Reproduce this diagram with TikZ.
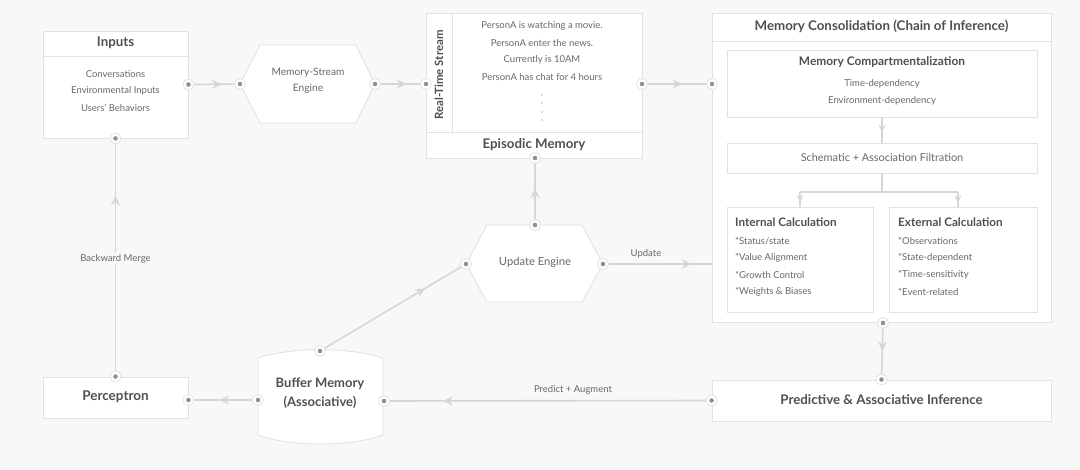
\documentclass[tikz,border=0pt]{standalone}
\usepackage{fontspec}
\setmainfont{Lato}
\usetikzlibrary{arrows.meta,decorations.markings,calc}

\definecolor{bgcol}{HTML}{F8F8F9}
\definecolor{boxline}{HTML}{E1E2E5}
\definecolor{linecol}{HTML}{D4D6DA}
\definecolor{txtcol}{HTML}{68686A}
\definecolor{ttlcol}{HTML}{505052}
\definecolor{dotcol}{HTML}{8C919A}

\tikzset{
  box/.style={draw=boxline, fill=white, line width=0.9pt, inner sep=0pt},
  conn/.style={draw=linecol, line width=1.6pt},
  thinconn/.style={draw=linecol, line width=1.1pt},
  arrowat/.style={postaction={decorate}, decoration={markings,
      mark=at position #1 with {\arrow[linecol]{Stealth[length=10pt,width=9pt,inset=3.5pt]}}}},
  smallarrowat/.style={postaction={decorate}, decoration={markings,
      mark=at position #1 with {\arrow[linecol]{Stealth[length=8pt,width=7pt,inset=3pt]}}}},
  itemtext/.style={text=txtcol, font=\fontsize{9.5}{11}\selectfont, inner sep=0pt},
  titletext/.style={text=ttlcol, font=\bfseries\fontsize{13.3}{15}\selectfont, inner sep=0pt},
  subtitle/.style={text=ttlcol, font=\bfseries\fontsize{11.7}{13}\selectfont, inner sep=0pt},
}
\newcommand{\port}[1]{%
  \fill[white] (#1) circle (5.5pt);
  \draw[boxline, line width=0.8pt] (#1) circle (5.5pt);
  \fill[dotcol] (#1) circle (2.3pt);}

\begin{document}
\begin{tikzpicture}[x=1pt,y=-1pt]
\fill[bgcol] (0,0) rectangle (1080,470);
\useasboundingbox (0,0) rectangle (1080,470);

% inputs
\node[box, minimum width=145pt, minimum height=107pt] (inputs) at (115.5,84.5) {};
\draw[boxline, line width=0.9pt] (43,56) -- (188,56);
\node[titletext] (inputsT) at (115.5,43) {Inputs};
\node[itemtext] (in1) at (115.5,74) {Conversations};
\node[itemtext] (in2) at (115.5,91) {Environmental Inputs};
\node[itemtext] (in3) at (115.5,108) {Users' Behaviors};

% memory-stream engine
\coordinate (mseW) at (240,84);
\coordinate (mseE) at (375,84);
\draw[box] (mseW) -- (260,45) -- (356,45) -- (mseE) -- (356,123) -- (260,123) -- cycle;
\node[itemtext, align=center, font=\fontsize{10.2}{12}\selectfont] (mseT) at (308,81) {Memory-Stream\\[4pt]Engine};

% episodic memory
\node[box, minimum width=216pt, minimum height=145pt] (episodic) at (534,85.5) {};
\draw[boxline, line width=0.9pt] (452,13) -- (452,132);
\draw[boxline, line width=0.9pt] (426,132) -- (642,132);
\node[subtitle, rotate=90, font=\bfseries\fontsize{11.4}{13}\selectfont] (rts) at (439,75) {Real-Time Stream};
\node[itemtext] (ep1) at (542,26) {PersonA is watching a movie.};
\node[itemtext] (ep2) at (542,43) {PersonA enter the news.};
\node[itemtext] (ep3) at (542,60) {Currently is 10AM};
\node[itemtext] (ep4) at (542,77) {PersonA has chat for 4 hours};
\foreach \y in {95,103,112,120}
  \fill[txtcol] (542,\y) circle (0.6pt);
\node[titletext] (epiT) at (534,145) {Episodic Memory};
\coordinate (epiW) at (426,84);
\coordinate (epiE) at (642,84);
\coordinate (epiS) at (535,158);

% memory consolidation
\node[box, minimum width=339pt, minimum height=309pt] (cons) at (881.5,167.5) {};
\draw[boxline, line width=0.9pt] (712,41) -- (1051,41);
\node[titletext] (consT) at (881.5,26) {Memory Consolidation (Chain of Inference)};
\coordinate (consW) at (712,84);
\coordinate (consS) at (883,323);

\node[box, minimum width=310pt, minimum height=67pt] (compart) at (882,83.5) {};
\node[subtitle, font=\bfseries\fontsize{11.9}{13}\selectfont] (compT) at (882,62.5) {Memory Compartmentalization};
\node[itemtext] (cp1) at (882,83.5) {Time-dependency};
\node[itemtext] (cp2) at (882,100.5) {Environment-dependency};

\node[box, minimum width=310pt, minimum height=30pt] (schem) at (882,158) {};
\node[itemtext, font=\fontsize{10.9}{12}\selectfont] (schemT) at (882,157.5) {Schematic + Association Filtration};

\node[box, minimum width=146pt, minimum height=105pt] (internal) at (800,259.5) {};
\node[box, minimum width=148pt, minimum height=105pt] (external) at (963,259.5) {};
\node[subtitle, anchor=west] (intT) at (735,222) {Internal Calculation};
\node[itemtext, anchor=west] (i1) at (735,241) {*Status/state};
\node[itemtext, anchor=west] (i2) at (735,258) {*Value Alignment};
\node[itemtext, anchor=west] (i3) at (735,275) {*Growth Control};
\node[itemtext, anchor=west] (i4) at (735,292) {*Weights \& Biases};
\node[subtitle, anchor=west] (extT) at (898,222) {External Calculation};
\node[itemtext, anchor=west] (e1) at (898,241) {*Observations};
\node[itemtext, anchor=west] (e2) at (898,258) {*State-dependent};
\node[itemtext, anchor=west] (e3) at (898,275) {*Time-sensitivity};
\node[itemtext, anchor=west] (e4) at (898,292) {*Event-related};

% update engine
\coordinate (updW) at (466,264);
\coordinate (updE) at (603,264);
\coordinate (updN) at (535,225);
\draw[box] (updW) -- (487,225) -- (582,225) -- (updE) -- (582,302) -- (487,302) -- cycle;
\node[itemtext, font=\fontsize{11.2}{13}\selectfont] (updT) at (535,262) {Update Engine};

% buffer memory
\coordinate (bufN) at (320,351);
\coordinate (bufW) at (258,400);
\coordinate (bufE) at (384,401);
\draw[box] (258,358) .. controls (290,347) and (351,347) .. (383,358)
  -- (383,435) .. controls (351,447) and (290,447) .. (258,435) -- cycle;
\node[titletext, align=center, font=\bfseries\fontsize{13}{15}\selectfont] (bufT) at (320,393.5) {Buffer Memory\\[4pt](Associative)};

% perceptron
\node[box, minimum width=145pt, minimum height=41pt] (percep) at (115.5,397.5) {};
\node[titletext, font=\bfseries\fontsize{13.5}{15}\selectfont] (percT) at (115.5,397) {Perceptron};

% predictive inference
\node[box, minimum width=339pt, minimum height=41pt] (predict) at (881.5,400.5) {};
\node[titletext] (predT) at (881.5,399.5) {Predictive \& Associative Inference};

% connectors
\draw[conn, arrowat=0.65] (inputs.east) -- (mseW);
\draw[conn, arrowat=0.62] (mseE) -- (epiW);
\draw[conn, arrowat=0.58] (epiE) -- (consW);
\draw[conn, arrowat=0.55] (updN) -- (epiS);
\draw[conn, arrowat=0.82] (updE) -- (updE -| cons.west);
\node[itemtext] (updL) at (646,254) {Update};
\draw[conn, arrowat=0.72] (bufN) -- (updW);
\draw[conn, arrowat=0.56] (bufW) -- (bufW -| percep.east);
\draw[conn, arrowat=0.76] (percep.north) -- (inputs.south);
\node[itemtext, fill=bgcol, inner sep=2pt] (bwL) at (115.5,259) {Backward Merge};
\draw[conn, arrowat=0.82] (predict.west) -- (bufE);
\node[itemtext] (paL) at (573,390) {Predict + Augment};
\draw[conn, arrowat=0.5] (consS) -- (predict.north);

\draw[thinconn, smallarrowat=0.6] (compart.south) -- (schem.north);
\coordinate (split) at (882,192);
\draw[thinconn] (schem.south) -- (split);
\draw[thinconn] (800,192) -- (958,192);
\draw[thinconn, smallarrowat=0.75] (800,192) -- (internal.north);
\draw[thinconn, smallarrowat=0.75] (958,192) -- (958,207);

% ports
\port{inputs.east}
\port{inputs.south}
\port{mseW}
\port{mseE}
\port{epiW}
\port{epiE}
\port{epiS}
\port{consW}
\port{consS}
\port{updW}
\port{updE}
\port{updN}
\port{bufN}
\port{bufW}
\port{bufE}
\port{percep.north}
\port{bufW -| percep.east}
\port{predict.north}
\port{predict.west}
\end{tikzpicture}
\end{document}
